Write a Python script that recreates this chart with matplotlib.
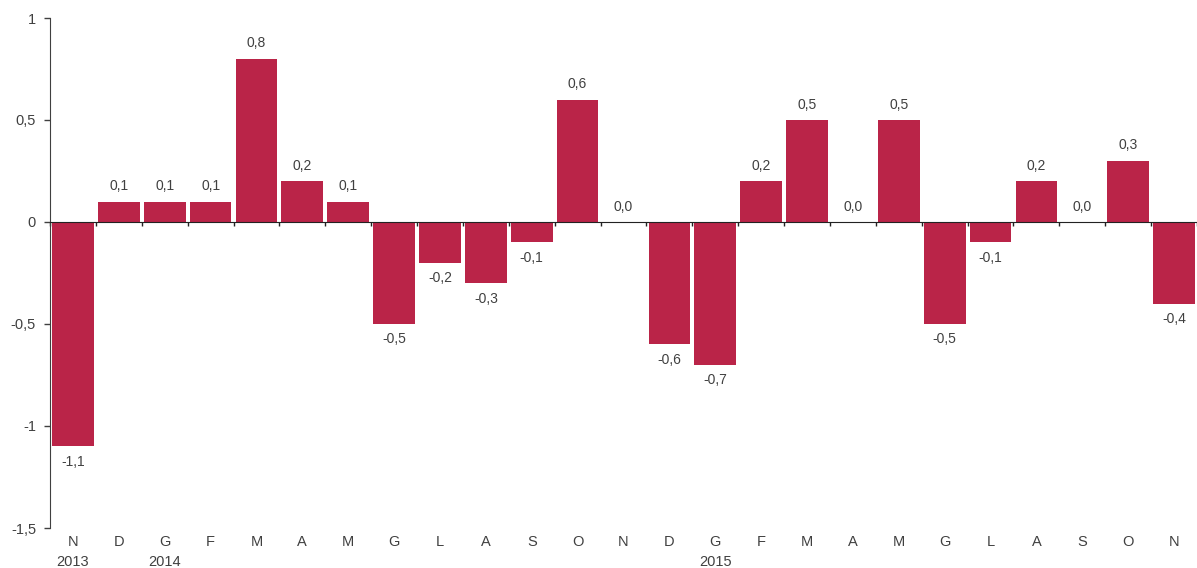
import matplotlib.pyplot as plt
import matplotlib.transforms as mtransforms

plt.rcParams['font.family'] = ['Liberation Sans', 'DejaVu Sans']

# Dati
mesi = ['N', 'D', 'G', 'F', 'M', 'A', 'M', 'G', 'L', 'A', 'S', 'O',
        'N', 'D', 'G', 'F', 'M', 'A', 'M', 'G', 'L', 'A', 'S', 'O', 'N']
anni = {0: '2013', 2: '2014', 14: '2015'}
valori = [-1.1, 0.1, 0.1, 0.1, 0.8, 0.2, 0.1, -0.5, -0.2, -0.3, -0.1, 0.6,
          0.0, -0.6, -0.7, 0.2, 0.5, 0.0, 0.5, -0.5, -0.1, 0.2, 0.0, 0.3, -0.4]
yticks = [1, 0.5, 0, -0.5, -1, -1.5]

colore = '#BA2448'
grigio = '#404040'

fig = plt.figure(figsize=(11.97, 5.68), dpi=100)
ax = fig.add_axes([50 / 1197, 40 / 568, 1 - 50 / 1197, 510 / 568])

x = list(range(len(valori)))
ax.bar(x, valori, width=0.91, color=colore, zorder=2)

for xi, v in zip(x, valori):
    testo = f'{v:.1f}'.replace('.', ',')
    if v >= 0:
        ax.annotate(testo, (xi, v), xytext=(0, 6), textcoords='offset points',
                    ha='center', va='bottom', fontsize=10, color=grigio)
    else:
        ax.annotate(testo, (xi, v), xytext=(0, -6), textcoords='offset points',
                    ha='center', va='top', fontsize=10, color=grigio)

ax.set_xlim(-0.5, 24.39)
ax.set_ylim(-1.5, 1)

ax.set_yticks(yticks)
ax.set_yticklabels([f'{t:g}'.replace('.', ',') for t in yticks])
ax.tick_params(axis='y', colors=grigio, labelsize=10.5, length=4, width=1, pad=6)

# asse x sullo zero con tacche ai bordi delle barre
ax.spines['bottom'].set_position(('data', 0))
ax.spines['bottom'].set_color('#222222')
ax.spines['bottom'].set_zorder(3)
ax.set_xticks([i - 0.5 for i in range(len(valori) + 1)])
ax.set_xticklabels([])
ax.tick_params(axis='x', length=3, width=1, colors='#222222')
ax.spines['left'].set_color(grigio)
ax.spines['top'].set_visible(False)
ax.spines['right'].set_visible(False)

trans = mtransforms.blended_transform_factory(ax.transData, ax.transAxes)
for i, m in enumerate(mesi):
    ax.text(i, -0.028, m, transform=trans, ha='center', va='center',
            fontsize=10.5, color=grigio)
for i, a in anni.items():
    ax.text(i, -0.066, a, transform=trans, ha='center', va='center',
            fontsize=10.5, color=grigio)

fig.savefig('out.png', dpi=100)
